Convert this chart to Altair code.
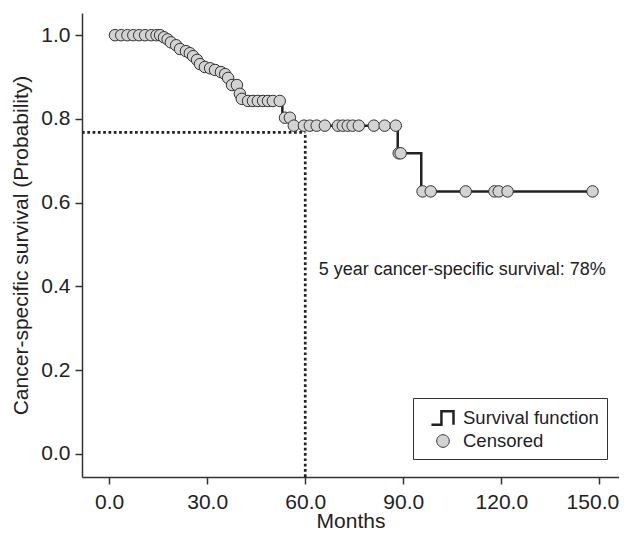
import altair as alt
import pandas as pd

# ---- data ----
censor_months = [1.8, 3.7, 5.6, 7.4, 9.2, 11.0, 12.9, 14.5, 15.6,
                 16.8, 17.9, 18.9, 20.5, 21.7, 23.5, 24.7, 25.7, 26.9, 27.8,
                 29.3, 30.9, 32.4, 34.2, 35.5, 36.4, 37.6, 39.1, 40.0, 40.6,
                 42.5, 44.0, 45.5, 47.1, 48.6, 50.1, 52.2,
                 53.8, 55.3, 56.5,
                 59.6, 61.4, 63.5, 66.0, 70.0, 71.5, 73.0, 74.5, 76.4, 81.0, 84.3, 87.7,
                 88.6, 89.2,
                 95.9, 98.4, 109.1, 117.9, 119.2, 121.9, 147.9]
censor_surv = [1.0, 1.0, 1.0, 1.0, 1.0, 1.0, 1.0, 1.0, 1.0,
               0.995, 0.990, 0.983, 0.976, 0.967, 0.962, 0.957, 0.950, 0.941, 0.931,
               0.924, 0.921, 0.917, 0.912, 0.907, 0.898, 0.881, 0.881, 0.860, 0.848,
               0.843, 0.843, 0.843, 0.843, 0.843, 0.843, 0.843,
               0.803, 0.803, 0.784,
               0.784, 0.784, 0.784, 0.784, 0.784, 0.784, 0.784, 0.784, 0.784, 0.784, 0.784, 0.784,
               0.718, 0.718,
               0.627, 0.627, 0.627, 0.627, 0.627, 0.627, 0.627]
event_months = [53.0, 88.3, 95.5]
event_surv = [0.803, 0.718, 0.627]

five_year_month = 60.0
five_year_surv = 0.768
annotation_text = "5 year cancer-specific survival: 78%"
annotation_month = 64.1
annotation_surv = 0.439

x_ticks = [0, 30, 60, 90, 120, 150]
y_ticks = [0.0, 0.2, 0.4, 0.6, 0.8, 1.0]
x_domain = [-8.3, 156.0]
y_domain = [-0.055, 1.053]

legend_labels = ["Survival function", "Censored"]

FONT = "Liberation Sans"
INK = "#222222"

# ---- tables ----
cens = pd.DataFrame({"month": censor_months, "surv": censor_surv})
cens["kind"] = "Censored"
steps = pd.concat([
    pd.DataFrame({"month": censor_months, "surv": censor_surv}),
    pd.DataFrame({"month": event_months, "surv": event_surv}),
]).sort_values(["month", "surv"], ascending=[True, False]).reset_index(drop=True)

hline = pd.DataFrame({"x": [x_domain[0]], "x2": [five_year_month], "y": [five_year_surv]})
vline = pd.DataFrame({"x": [five_year_month], "y": [y_domain[0]], "y2": [five_year_surv]})
note = pd.DataFrame({"month": [annotation_month], "surv": [annotation_surv], "label": [annotation_text]})

xscale = alt.Scale(domain=x_domain, nice=False, zero=False)
yscale = alt.Scale(domain=y_domain, nice=False, zero=False)

xaxis = alt.Axis(values=x_ticks, format=".1f", title="Months",
                 labelOffset={"expr": "datum.value == 150 ? -7 : 0"})
yaxis = alt.Axis(values=y_ticks, format=".1f", title="Cancer-specific survival (Probability)")

step_path = "M-1.1,0.65L-0.15,0.65L-0.15,-0.65L1.0,-0.65L1.0,0.65"
circle_path = "M-0.6,0A0.6,0.6 0 1,0 0.6,0A0.6,0.6 0 1,0 -0.6,0Z"

leg = alt.Legend(title=None, orient="none", legendX=331, legendY=385,
                 strokeColor="#333333", padding=8, symbolOffset=10,
                 symbolSize=441,
                 labelFont=FONT, labelFontSize=18.5, labelColor=INK,
                 labelOffset=8, rowPadding=0)

h = alt.Chart(hline).mark_rule(color=INK, strokeWidth=2.7, strokeDash=[2.7, 2.6]).encode(
    x=alt.X("x:Q", scale=xscale, axis=xaxis), x2="x2:Q", y=alt.Y("y:Q", scale=yscale, axis=yaxis))
v = alt.Chart(vline).mark_rule(color=INK, strokeWidth=2.7, strokeDash=[2.7, 2.6]).encode(
    x=alt.X("x:Q", scale=xscale), y=alt.Y("y:Q", scale=yscale), y2="y2:Q")

line = alt.Chart(steps).mark_line(interpolate="step-after", color=INK, strokeWidth=2.5).encode(
    x=alt.X("month:Q", scale=xscale), y=alt.Y("surv:Q", scale=yscale), order="month:Q")

pts = alt.Chart(cens).mark_point(filled=True, size=367, opacity=1).encode(
    x=alt.X("month:Q", scale=xscale),
    y=alt.Y("surv:Q", scale=yscale),
    shape=alt.Shape("kind:N", scale=alt.Scale(domain=legend_labels, range=[step_path, circle_path]), legend=leg),
    fill=alt.Fill("kind:N", scale=alt.Scale(domain=legend_labels, range=["transparent", "#d3d3d3"]), legend=leg),
    stroke=alt.Stroke("kind:N", scale=alt.Scale(domain=legend_labels, range=["#222222", "#333333"]), legend=leg),
    strokeWidth=alt.StrokeWidth("kind:N", scale=alt.Scale(type="point", padding=0, domain=legend_labels, range=[2.5, 1.0]), legend=leg),
)

txt = alt.Chart(note).mark_text(align="left", baseline="middle", font=FONT, fontSize=18, color=INK).encode(
    x=alt.X("month:Q", scale=xscale), y=alt.Y("surv:Q", scale=yscale), text="label:N")

chart = alt.layer(h, v, line, pts, txt).properties(
    width=537, height=464,
    autosize=alt.AutoSizeParams(type="none"),
    padding={"left": 74, "top": 5, "right": 0, "bottom": 57},
).configure_view(stroke=None).configure_axis(
    grid=False, labelFont=FONT, labelFontSize=21, labelColor=INK,
    titleFont=FONT, titleFontSize=21, titleFontWeight="normal", titleColor=INK,
    domainColor="#333333", domainWidth=1.5, tickColor="#333333", tickWidth=1.5, tickSize=7,
).configure_axisX(labelPadding=7, titlePadding=-2).configure_axisY(labelPadding=5, titlePadding=9)

chart.save("out.html", embed_options={"renderer": "svg", "actions": False})
